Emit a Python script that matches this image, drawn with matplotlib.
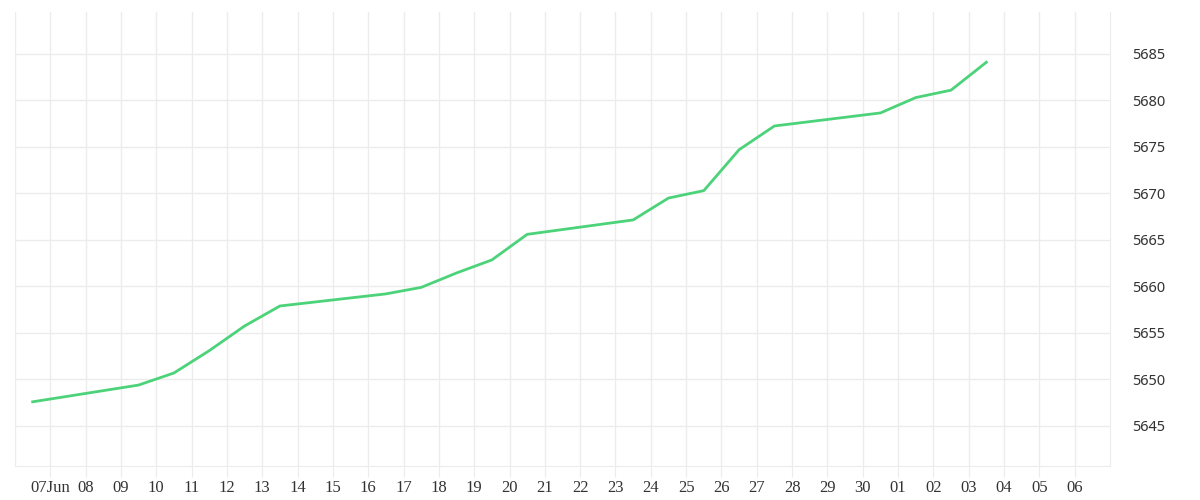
import numpy as np
import matplotlib.pyplot as plt
import matplotlib.dates as mdates
from datetime import datetime, timedelta

days = ['2024-06-06', '2024-06-09', '2024-06-10', '2024-06-11', '2024-06-12', '2024-06-13',
        '2024-06-16', '2024-06-17', '2024-06-18', '2024-06-19', '2024-06-20',
        '2024-06-23', '2024-06-24', '2024-06-25', '2024-06-26', '2024-06-27',
        '2024-06-30', '2024-07-01', '2024-07-02', '2024-07-03']
values = [5647.6, 5649.4, 5650.7, 5653.1, 5655.75, 5657.9,
          5659.2, 5659.9, 5661.45, 5662.85, 5665.6,
          5667.15, 5669.5, 5670.3, 5674.7, 5677.25,
          5678.65, 5680.3, 5681.1, 5684.1]
yticks = [5645, 5650, 5655, 5660, 5665, 5670, 5675, 5680, 5685]

x = [datetime.strptime(d, '%Y-%m-%d') + timedelta(hours=12) for d in days]

fig = plt.figure(figsize=(12, 5), dpi=100)
ax = fig.add_axes([15/1200, 0.068, 1095/1200, 0.908])
grid_c = '#ececec'
ax.plot(x, values, color='#4cd37a', lw=2.0, zorder=3)

ticks = [datetime(2024, 6, 7) + timedelta(days=i) for i in range(30)]
labels = ['07Jun'] + [t.strftime('%d') for t in ticks[1:]]
ax.set_xticks(ticks)
ax.set_xticklabels(labels, family='Liberation Serif', fontsize=12, color='#333333')
ax.set_xlim(datetime(2024, 6, 6), datetime(2024, 7, 7))
ax.set_ylim(5640.7, 5689.5)
ax.yaxis.tick_right()
ax.set_yticks(yticks)
ax.set_yticklabels([str(v) for v in yticks], family='Noto Sans', fontsize=10.5, color='#333333')
ax.grid(True, color=grid_c, lw=1)
for s in ['top', 'left']:
    ax.spines[s].set_visible(False)
for s in ['bottom', 'right']:
    ax.spines[s].set_color(grid_c)
ax.tick_params(axis='x', length=8, color=grid_c, pad=2)
ax.tick_params(axis='y', length=0, pad=16)
ax.axvline(datetime(2024, 6, 6), color=grid_c, lw=1)

fig.savefig('out.png')
